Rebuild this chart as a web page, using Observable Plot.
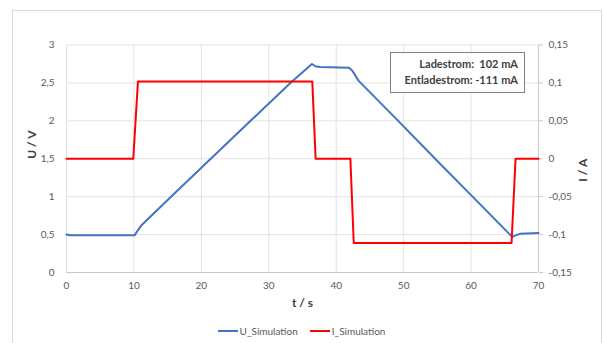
<!DOCTYPE html>
<html><head><meta charset="utf-8">
<script src="https://cdn.jsdelivr.net/npm/d3@7"></script>
<script src="https://cdn.jsdelivr.net/npm/@observablehq/plot@0.6"></script>
<style>
body{margin:0;background:#fff;font-family:Lato,"Open Sans",sans-serif;}
#wrap{position:relative;width:603px;height:343px;overflow:hidden;background:#fff;}
#frame{position:absolute;left:12px;top:10px;width:588px;height:345px;border:1px solid #d9d9d9;}
#chart{position:absolute;left:0;top:0;}
#note{position:absolute;left:390px;top:52px;width:135px;height:41px;border:1px solid #808080;background:#fff;box-sizing:border-box;font-weight:bold;font-size:11px;color:#404040;text-align:right;padding:3px 6px 0 0;line-height:16px;}
#legend{position:absolute;top:325px;left:0;width:603px;display:flex;justify-content:center;gap:12px;font-size:10px;color:#595959;}
#legend span{display:inline-flex;align-items:center;}
#legend i{display:inline-block;width:20px;height:2px;margin-right:2px;}
</style></head>
<body>
<div id="wrap">
  <div id="frame"></div>
  <div id="chart"></div>
  <div id="note"></div>
  <div id="legend"></div>
</div>
<script>
// Voltage series U_Simulation (t in s, U in V)
const tU = [0, 0.5, 10.1, 10.6, 11.2, 15.5, 21.4, 27.3, 33.2, 36.4, 36.9, 37.6, 41.9, 42.4, 43.3, 49.3, 55, 60, 66.1, 66.6, 67.3, 70];
const uVals = [0.5, 0.49, 0.49, 0.56, 0.63, 1.0, 1.5, 2.0, 2.5, 2.75, 2.72, 2.71, 2.70, 2.66, 2.53, 1.99, 1.47, 1.02, 0.47, 0.49, 0.51, 0.52];
// Current series I_Simulation (t in s, I in A)
const tI = [0, 9.9, 10.6, 36.45, 36.95, 42.1, 42.6, 66.0, 66.6, 70];
const iVals = [0, 0, 0.102, 0.102, 0, 0, -0.111, -0.111, 0, 0];
// Ticks and labels
const tTicks = [0, 10, 20, 30, 40, 50, 60, 70];
const uTicks = [0, 0.5, 1, 1.5, 2, 2.5, 3];
const uTickLabels = ["0", "0,5", "1", "1,5", "2", "2,5", "3"];
const iTicks = [0.15, 0.1, 0.05, 0, -0.05, -0.1, -0.15];
const iTickLabels = ["0,15", "0,1", "0,05", "0", "-0,05", "-0,1", "-0,15"];
const seriesNames = ["U_Simulation", "I_Simulation"];
const seriesColors = ["#4472C4", "#FF0000"];
const noteLines = ["Ladestrom:\u00a0 102 mA", "Entladestrom: -111 mA"];

// secondary axis (I) mapped onto primary (U) scale: I range [-0.15,0.15] -> U range [0,3]
const iToU = i => (i + 0.15) * 10;

const uData = tU.map((t, k) => ({t, v: uVals[k]}));
const iData = tI.map((t, k) => ({t, v: iToU(iVals[k])}));

const chart = Plot.plot({
  width: 603, height: 312,
  marginLeft: 66, marginRight: 65, marginTop: 44.5, marginBottom: 40,
  style: {fontFamily: "Lato, 'Open Sans', sans-serif", fontSize: "10px", color: "#595959", background: "transparent"},
  x: {domain: [0, 70]},
  y: {domain: [0, 3]},
  marks: [
    Plot.gridY(uTicks, {stroke: "#e3e3e3", strokeOpacity: 1}),
    Plot.gridX(tTicks, {stroke: "#e3e3e3", strokeOpacity: 1}),
    Plot.ruleY([0], {stroke: "#c8c8c8"}),
    Plot.ruleX([70], {stroke: "#c8c8c8"}),
    Plot.axisY(uTicks, {anchor: "left", tickSize: 0, tickPadding: 12, tickFormat: (d, i) => uTickLabels[uTicks.indexOf(d)], label: null}),
    Plot.axisY(iTicks.map(iToU), {anchor: "right", tickSize: 4, tickPadding: 6, stroke: "#c8c8c8", tickFormat: d => iTickLabels[iTicks.map(iToU).findIndex(v => Math.abs(v - d) < 1e-9)], label: null}),
    Plot.axisX(tTicks, {tickSize: 0, tickPadding: 9, label: null}),
    Plot.line(uData, {x: "t", y: "v", stroke: seriesColors[0], strokeWidth: 2}),
    Plot.line(iData, {x: "t", y: "v", stroke: seriesColors[1], strokeWidth: 2}),
    Plot.text(["U / V"], {frameAnchor: "left", dx: -34, rotate: -90, fontWeight: "bold", fontSize: 12, fill: "#404040"}),
    Plot.text(["I / A"], {frameAnchor: "right", dx: 45, rotate: -90, fontWeight: "bold", fontSize: 12, fill: "#404040"}),
    Plot.text(["t / s"], {frameAnchor: "bottom", dy: 34, fontWeight: "bold", fontSize: 12, fill: "#404040"})
  ]
});
document.getElementById("chart").appendChild(chart);

document.getElementById("note").innerHTML = noteLines.map(s => `<div>${s}</div>`).join("");
document.getElementById("legend").innerHTML = seriesNames.map((n, k) =>
  `<span><i style="background:${seriesColors[k]}"></i>${n}</span>`).join("");
</script>
</body></html>
